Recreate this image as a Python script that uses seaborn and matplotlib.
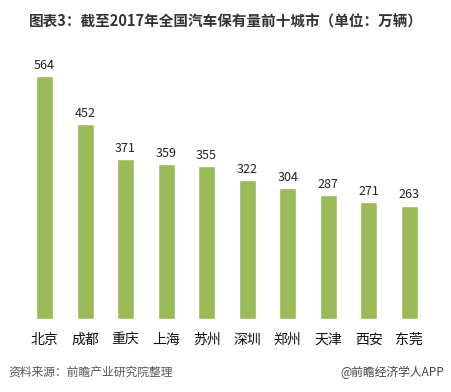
import pandas as pd
import matplotlib.pyplot as plt
import seaborn as sns

# Data: car ownership by city, end of 2017 (10k vehicles)
cities = ["北京", "成都", "重庆", "上海", "苏州", "深圳", "郑州", "天津", "西安", "东莞"]
values = [564, 452, 371, 359, 355, 322, 304, 287, 271, 263]

df = pd.DataFrame({"city": cities, "value": values})

sns.set_style("white")
plt.rcParams['font.family'] = ['Noto Sans CJK SC', 'DejaVu Sans']

fig = plt.figure(figsize=(4.51, 3.92), dpi=100)
ax = fig.add_axes([24.25 / 451, 73 / 392, 405.25 / 451, 259 / 392])

sns.barplot(data=df, x="city", y="value", color="#9BBB59", width=0.42,
            saturation=1, ax=ax)

for i, v in enumerate(values):
    ax.text(i, v + 10, str(v), ha="center", va="bottom", fontsize=9, color="#222222")

ax.set_xlim(-0.5, 9.5)
ax.set_ylim(0, 601)
ax.set_xlabel("")
ax.set_ylabel("")
ax.set_yticks([])
ax.tick_params(axis="x", length=0, labelsize=10, pad=10, colors="#111111")
for s in ax.spines.values():
    s.set_visible(False)

fig.text(0.5, 0.944, "图表3：截至2017年全国汽车保有量前十城市（单位：万辆）",
         ha="center", va="center", fontsize=10.5, fontweight="bold", color="#333333")
fig.text(0.018, 0.05, "资料来源：前瞻产业研究院整理", ha="left", va="center",
         fontsize=8.5, style="italic", color="#555555")
fig.text(0.985, 0.05, "@前瞻经济学人APP", ha="right", va="center",
         fontsize=8.5, color="#444444")

fig.savefig("out.png", dpi=100)
